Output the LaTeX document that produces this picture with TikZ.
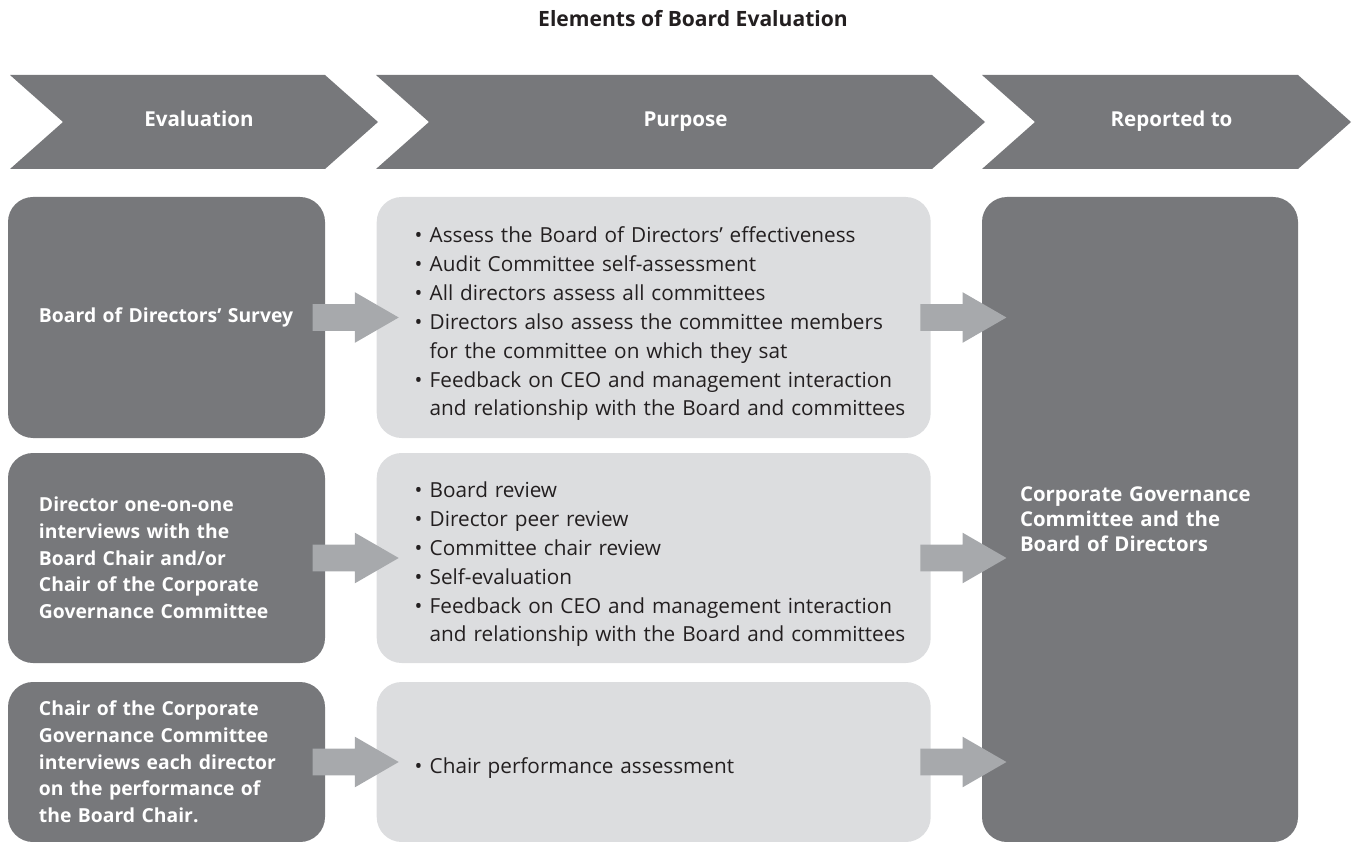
\documentclass[tikz,border=0pt]{standalone}
\usepackage{fontspec}
\setmainfont{Open Sans}
\usepackage{xcolor}
\definecolor{darkc}{HTML}{77787B}
\definecolor{lightc}{HTML}{DCDDDF}
\definecolor{arrc}{HTML}{A7A9AC}
\definecolor{txtc}{HTML}{231F20}
\usetikzlibrary{positioning,calc,shapes.arrows}
\tikzset{
  ttl/.style={font=\bfseries\fontsize{12}{15}\selectfont,text=txtc,inner sep=0pt,anchor=base},
  hdr/.style={font=\bfseries\fontsize{11.7}{14}\selectfont,text=white,inner sep=0pt,anchor=base},
  evbox/.style={fill=darkc,rounded corners=0.5cm,minimum width=6.34cm,inner xsep=0.62cm,text width=5.1cm,align=left,text=white,font=\bfseries\fontsize{11}{15.2}\selectfont},
  pubox/.style={fill=lightc,rounded corners=0.5cm,minimum width=11.08cm,inner xsep=0.44cm,text width=10.2cm,align=left,text=txtc,font=\fontsize{11.8}{16.4}\selectfont},
  repbox/.style={evbox,minimum width=6.32cm,inner xsep=0.76cm,text width=4.8cm,font=\bfseries\fontsize{11.6}{14.2}\selectfont},
  blk/.style={single arrow,fill=arrc,inner xsep=0pt,inner ysep=0.26cm,minimum height=1.72cm,single arrow head extend=0.24cm,single arrow tip angle=60,anchor=tail},
}
% one bullet item, \newline wraps under the text
\newcommand{\bul}{\par\leftskip=0.32cm\hangindent=0.3cm\hangafter=1\noindent\makebox[0.3cm][l]{\textbullet}}
% header chevron: name, left x, right x, label
\newcommand{\chev}[4]{%
  \fill[darkc] (#2,-1.5) -- (#3,-1.5) -- (#3+1.06,-2.44) -- (#3,-3.38) -- (#2,-3.38) -- (#2+1.06,-2.44) -- cycle;
  \node[hdr] (#1) at ({(#2+#3+1.06)/2+0.1},-2.54) {#4};}

\begin{document}
\begin{tikzpicture}
  \useasboundingbox (0,0) rectangle (27.06,-16.84);
  \node[ttl] (title) at (13.86,-0.54) {Elements of Board Evaluation};
  \chev{h1}{0.2}{6.5}{Evaluation}
  \chev{h2}{7.52}{18.64}{Purpose}
  \chev{h3}{19.64}{25.96}{Reported to}
  % left column
  \node[evbox,minimum height=4.82cm] (ev1) at (3.33,-6.35) {Board of Directors’ Survey};
  \node[evbox,minimum height=4.2cm] (ev2) at (3.33,-11.16) {Director one-on-one\\interviews with the\\Board Chair and/or\\Chair of the Corporate\\Governance Committee};
  \node[evbox,minimum height=3.2cm] (ev3) at (3.33,-15.24) {Chair of the Corporate\\Governance Committee\\interviews each director\\on the performance of\\the Board Chair.};
  % middle column
  \node[pubox,minimum height=4.82cm,right=1.02cm of ev1] (pu1) {%
    \bul Assess the Board of Directors’ effectiveness
    \bul Audit Committee self-assessment
    \bul All directors assess all committees
    \bul Directors also assess the committee members\newline for the committee on which they sat
    \bul Feedback on CEO and management interaction\newline and relationship with the Board and committees\par};
  \node[pubox,minimum height=4.2cm,right=1.02cm of ev2] (pu2) {%
    \bul Board review
    \bul Director peer review
    \bul Committee chair review
    \bul Self-evaluation
    \bul Feedback on CEO and management interaction\newline and relationship with the Board and committees\par};
  \node[pubox,minimum height=3.2cm,right=1.02cm of ev3] (pu3) {\bul Chair performance assessment\par};
  % right column
  \node[repbox,minimum height=12.9cm] (rep) at (22.8,-10.39) {Corporate Governance\\Committee and the\\Board of Directors};
  % block arrows between the columns
  \foreach \r in {1,2,3} {
    \node[blk] (ea\r) at ($(ev\r.east)+(-0.26cm,0)$) {};
    \node[blk] (ra\r) at ($(pu\r.east)+(-0.22cm,0)$) {};
  }
\end{tikzpicture}
\end{document}
